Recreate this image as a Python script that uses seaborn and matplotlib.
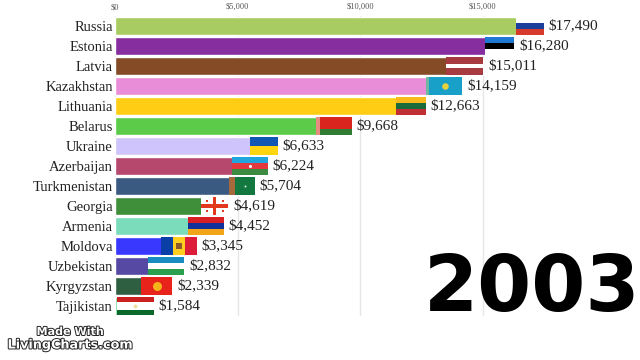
import matplotlib
matplotlib.use("Agg")
import matplotlib.pyplot as plt
import matplotlib.patheffects as pe
import seaborn as sns

countries = ["Russia", "Estonia", "Latvia", "Kazakhstan", "Lithuania", "Belarus", "Ukraine",
             "Azerbaijan", "Turkmenistan", "Georgia", "Armenia", "Moldova", "Uzbekistan",
             "Kyrgyzstan", "Tajikistan"]
values = [17490, 16280, 15011, 14159, 12663, 9668, 6633, 6224, 5704, 4619, 4452, 3345, 2832, 2339, 1584]
bar_colors = ["#A9CC62", "#862DA0", "#854B27", "#EA8DD8", "#FFCE14", "#5CCB4A", "#CFC4FB", "#B6486E",
              "#3B5A82", "#3F8E3A", "#7BDCBB", "#3838FF", "#5549A3", "#2F5F41", "#7FD8A0"]
flag_widths = [1140, 1180, 1500, 1470, 1220, 1470, 1120, 1470, 1040, 1100, 1470, 1470, 1500, 1260, 1500]
# stripes: (colour, share of the flag)
flag_h = [
    [("#FFFFFF", 1/3), ("#1C3F9E", 1/3), ("#D63A2A", 1/3)],
    [("#1F78D1", 1/3), ("#000000", 1/3), ("#FFFFFF", 1/3)],
    [("#A83A42", .4), ("#FFFFFF", .2), ("#A83A42", .4)],
    [("#19A0C8", 1)],
    [("#F9B81C", 1/3), ("#1A6A3C", 1/3), ("#BF2F33", 1/3)],
    [("#D8261F", 2/3), ("#2E7D32", 1/3)],
    [("#0F57B3", .5), ("#FFD510", .5)],
    [("#20A5DC", 1/3), ("#E2393F", 1/3), ("#3C8B40", 1/3)],
    [("#12783F", 1)],
    [("#FFFFFF", 1)],
    [("#D91F26", 1/3), ("#10309A", 1/3), ("#F3A51A", 1/3)],
    None,
    [("#1A8DC0", 1/3), ("#FFFFFF", 1/3), ("#2AA04F", 1/3)],
    [("#E8231B", 1)],
    [("#CC2020", .3), ("#FFFFFF", .4), ("#0B6A2B", .3)],
]
moldova_v = [("#0A3FA8", 1/3), ("#FFCE1E", 1/3), ("#DD1C3A", 1/3)]
hoist_stripes = {"Kazakhstan": ("#6FB7A0", .08), "Belarus": ("#E98A80", .1), "Turkmenistan": ("#A56A3C", .2)}
# emblems: (country, share across the flag, marker, colour, size)
emblems = [("Kazakhstan", .52, "o", "#E8D23C", 22), ("Azerbaijan", .52, "o", "#FFFFFF", 5),
           ("Turkmenistan", .6, "o", "#DDEFE3", 2), ("Moldova", .5, "s", "#8A5A2B", 14),
           ("Kyrgyzstan", .5, "o", "#F4B41A", 42), ("Tajikistan", .5, "o", "#F2DCA0", 8)]
cross_country = "Georgia"
cross_color = "#E2391E"
xticks = [0, 5000, 10000, 15000]
year = "2003"

sns.set_theme(style="white")
fig = plt.figure(figsize=(6.4, 3.6), dpi=100, facecolor="white")
ax = fig.add_axes([115/640, 44/360, 525/640, 300/360])

sns.barplot(x=values, y=countries, hue=countries, palette=bar_colors, legend=False,
            width=0.9, saturation=1, ax=ax, zorder=2)

ax.set_xlim(0, 525/0.02453)
ax.set_ylim(14.5, -0.5)
H = 0.9
for i, (name, v, w) in enumerate(zip(countries, values, flag_widths)):
    left = v - w
    if flag_h[i] is None:
        x = left
        for c, f in moldova_v:
            ax.barh(i, w*f, left=x, height=H, color=c, zorder=3, linewidth=0)
            x += w*f
    else:
        y = i - H/2
        for c, f in flag_h[i]:
            ax.barh(y + H*f/2, w, left=left, height=H*f, color=c, zorder=3, linewidth=0)
            y += H*f
    if name in hoist_stripes:
        c, f = hoist_stripes[name]
        ax.barh(i, w*f, left=left, height=H, color=c, zorder=4, linewidth=0)
    if name == cross_country:
        ax.barh(i, w, left=left, height=H*.2, color=cross_color, zorder=4, linewidth=0)
        ax.barh(i, w*.12, left=left + w*.44, height=H, color=cross_color, zorder=4, linewidth=0)
        ax.scatter([left + w*.2, left + w*.8, left + w*.2, left + w*.8], [i-.25, i-.25, i+.25, i+.25],
                   s=3, color=cross_color, marker="s", linewidths=0, zorder=5)
    ax.text(v + 190, i, f"${v:,}", va="center", ha="left", fontsize=11,
            family="Liberation Serif", color="#222222", zorder=6)

for name, f, m, c, s in emblems:
    i = countries.index(name)
    ax.scatter(values[i] - flag_widths[i]*(1-f), i, marker=m, s=s, color=c, linewidths=0, zorder=5)

ax.xaxis.tick_top()
ax.set_xticks(xticks)
ax.set_xticklabels([f"${t:,}" for t in xticks], fontsize=6, family="Liberation Serif", color="#555555")
ax.tick_params(axis="x", length=0, pad=3.5)
ax.tick_params(axis="y", length=0, pad=1.5)
for t in ax.get_yticklabels():
    t.set_family("Liberation Serif")
    t.set_fontsize(10.5)
    t.set_color("#222222")
ax.set_xlabel("")
ax.set_ylabel("")
ax.grid(axis="x", color="#E6E6E6", linewidth=1, zorder=1)
ax.set_axisbelow(True)
for s in ax.spines.values():
    s.set_visible(False)

fig.text(532/640, 1-311/360, year, fontsize=56, fontweight="bold", family="DejaVu Sans",
         color="black", ha="center", va="baseline")
stroke = [pe.withStroke(linewidth=1.4, foreground="#222222")]
fig.text(70/640, 1-332/360, "Made With", fontsize=8, fontweight="bold", family="DejaVu Sans",
         color="white", ha="center", va="center", path_effects=stroke)
fig.text(70/640, 1-345/360, "LivingCharts.com", fontsize=9.2, fontweight="bold", family="DejaVu Sans",
         color="white", ha="center", va="center", path_effects=stroke)

fig.savefig("out.png", dpi=100)
